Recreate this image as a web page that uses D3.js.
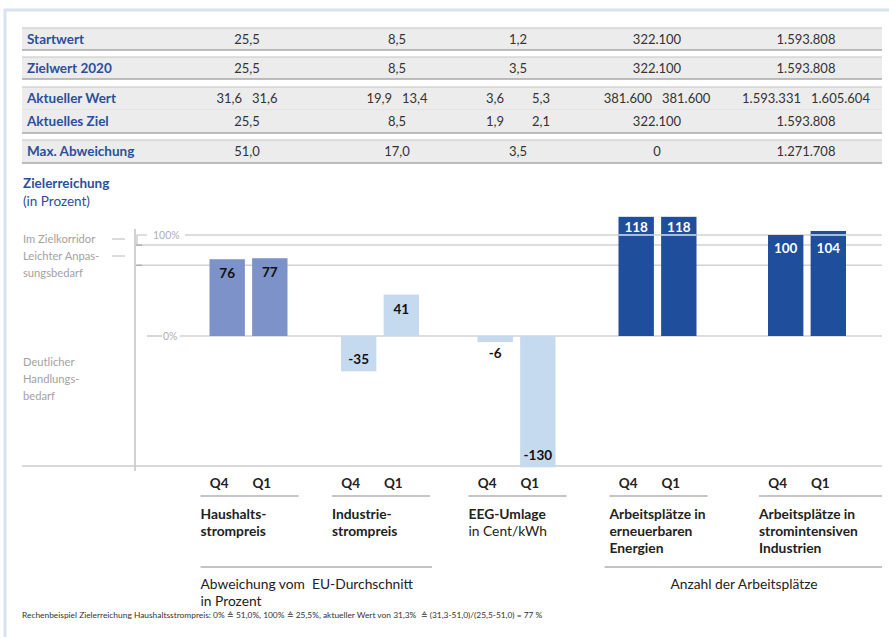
<!doctype html>
<html>
<head>
<meta charset="utf-8">
<script type='text/javascript' src='https://d3js.org/d3.v7.min.js'></script>
<style>
body { margin: 0; background: #fff; }
text { font-family: Lato, 'Open Sans', sans-serif; }
</style>
</head>
<body>
<script>
var width = 889, height = 637;

// table data
var rowLabels = ['Startwert', 'Zielwert 2020', 'Aktueller Wert', 'Aktuelles Ziel', 'Max. Abweichung'];
var startwert = ['25,5', '8,5', '1,2', '322.100', '1.593.808'];
var zielwert = ['25,5', '8,5', '3,5', '322.100', '1.593.808'];
var aktuellQ4 = ['31,6', '19,9', '3,6', '381.600', '1.593.331'];
var aktuellQ1 = ['31,6', '13,4', '5,3', '381.600', '1.605.604'];
var zielQ4 = ['25,5', '8,5', '1,9', '322.100', '1.593.808'];
var zielQ1 = ['25,5', '8,5', '2,1', '322.100', '1.593.808'];
var maxAbw = ['51,0', '17,0', '3,5', '0', '1.271.708'];

// chart data
var categories = ['haushalt', 'industrie', 'eeg', 'ee', 'strom'];
var quarters = ['Q4', 'Q1'];
var q4 = [76, -35, -6, 118, 100];
var q1 = [77, 41, -130, 118, 104];
var catNames = [
  ['Haushalts-', 'strompreis'],
  ['Industrie-', 'strompreis'],
  ['EEG-Umlage', 'in Cent/kWh'],
  ['Arbeitsplätze in', 'erneuerbaren', 'Energien'],
  ['Arbeitsplätze in', 'stromintensiven', 'Industrien']
];
var gridTicks = [100, 90, 70, 0];

var catColor = d3.scaleOrdinal().domain(categories).range(['#7c92c8', '#c6daef', '#c6daef', '#1f4e9d', '#1f4e9d']);
var darkCat = {ee: true, strom: true};

var svg = d3.select('body').append('svg').attr('width', width).attr('height', height);

// frame
svg.append('path').attr('d', 'M5,637V10H889').attr('fill', 'none')
  .attr('stroke', '#d9e3ed').attr('stroke-width', 3);

// ---------- table ----------
var tableX = d3.scaleOrdinal().domain(categories).range([247, 397, 518, 657, 806]);
var rows = [
  {label: rowLabels[0], a: startwert, b: startwert, top: 28, bot: 50},
  {label: rowLabels[1], a: zielwert, b: zielwert, top: 57, bot: 79},
  {label: rowLabels[2], a: aktuellQ4, b: aktuellQ1, top: 87, bot: 110, pair: true},
  {label: rowLabels[3], a: zielQ4, b: zielQ1, top: 110, bot: 133},
  {label: rowLabels[4], a: maxAbw, b: maxAbw, top: 140, bot: 163}
];
var tg = svg.append('g');
rows.forEach(function(r, i) {
  tg.append('rect').attr('x', 22).attr('y', r.top).attr('width', 860).attr('height', r.bot - r.top)
    .attr('fill', '#ececec');
  if (i != 3) tg.append('line').attr('x1', 22).attr('x2', 882).attr('y1', r.top).attr('y2', r.top)
    .attr('stroke', '#c4c4c4').attr('stroke-width', 1.2);
  if (i != 2) tg.append('line').attr('x1', 22).attr('x2', 882).attr('y1', r.bot).attr('y2', r.bot)
    .attr('stroke', '#a9a9a9').attr('stroke-width', 1.5);
  else tg.append('line').attr('x1', 22).attr('x2', 882).attr('y1', r.bot).attr('y2', r.bot)
    .attr('stroke', '#dadada').attr('stroke-width', 1);
  var cy = (r.top + r.bot) / 2 + 4.5;
  tg.append('text').attr('x', 27).attr('y', cy).text(r.label)
    .attr('font-size', 13.5).attr('font-weight', 'bold').attr('fill', '#2b4f9b');
  categories.forEach(function(c, j) {
    if (r.pair || r.a[j] != r.b[j]) {
      var gap = (c == 'eeg') ? 14 : 5;
      tg.append('text').attr('x', tableX(c) - gap).attr('y', cy).attr('text-anchor', 'end')
        .attr('font-size', 13).attr('fill', '#333').text(r.a[j]);
      tg.append('text').attr('x', tableX(c) + gap).attr('y', cy).attr('text-anchor', 'start')
        .attr('font-size', 13).attr('fill', '#333').text(r.b[j]);
    } else {
      tg.append('text').attr('x', tableX(c)).attr('y', cy).attr('text-anchor', 'middle')
        .attr('font-size', 13).attr('fill', '#333').text(r.a[j]);
    }
  });
});

// ---------- chart ----------
svg.append('text').attr('x', 23).attr('y', 188).text('Zielerreichung')
  .attr('font-size', 13.5).attr('font-weight', 'bold').attr('fill', '#2b4f9b');
svg.append('text').attr('x', 23).attr('y', 206).text('(in Prozent)')
  .attr('font-size', 13.5).attr('fill', '#2b4f9b');

var y = d3.scaleLinear().domain([0, 100]).range([336, 235]);
var x = d3.scaleOrdinal().domain(categories).range([248.5, 380, 516.5, 657.5, 807]);
var xq = d3.scaleBand().domain(quarters).range([-39, 39]).paddingInner(0.17);
var right = 882, axisX = 135;

// gridlines
var gridStart = {100: 185, 90: axisX + 2, 70: axisX + 2, 0: 180};
gridTicks.forEach(function(t) {
  svg.append('line').attr('x1', gridStart[t]).attr('x2', right).attr('y1', y(t)).attr('y2', y(t))
    .attr('stroke', '#d2d2d2').attr('stroke-width', 1.5);
});
svg.append('text').attr('x', 153).attr('y', y(100) + 4).text('100%')
  .attr('font-size', 10.5).attr('fill', '#b0b0b0');
svg.append('line').attr('x1', 147).attr('x2', 162).attr('y1', y(0)).attr('y2', y(0))
  .attr('stroke', '#c8c8c8').attr('stroke-width', 1.5);
svg.append('text').attr('x', 163).attr('y', y(0) + 4).text('0%')
  .attr('font-size', 10.5).attr('fill', '#b0b0b0');
// bracket & ticks on axis
svg.append('path').attr('d', 'M' + (axisX + 12) + ',' + y(100) + 'H' + (axisX + 2) + 'V' + y(90))
  .attr('fill', 'none').attr('stroke', '#c0c0c0').attr('stroke-width', 1.2);
[90, 70].forEach(function(t) {
  svg.append('line').attr('x1', axisX + 1).attr('x2', axisX + 7).attr('y1', y(t)).attr('y2', y(t))
    .attr('stroke', '#b0b0b0').attr('stroke-width', 1.5);
});
// axis line and baseline
svg.append('line').attr('x1', axisX).attr('x2', axisX).attr('y1', 229).attr('y2', 471)
  .attr('stroke', '#b4b4b4').attr('stroke-width', 1.2);
svg.append('line').attr('x1', 22).attr('x2', right).attr('y1', 466).attr('y2', 466)
  .attr('stroke', '#cccccc').attr('stroke-width', 1.5);

// left annotations
var annGrey = '#a2a2a2';
[['Im Zielkorridor', 243], ['Leichter Anpas-', 260], ['sungsbedarf', 277],
 ['Deutlicher', 366], ['Handlungs-', 383], ['bedarf', 400]].forEach(function(a) {
  svg.append('text').attr('x', 23).attr('y', a[1]).text(a[0]).attr('font-size', 11.2).attr('fill', annGrey);
});
[239, 256].forEach(function(yy) {
  svg.append('line').attr('x1', 112).attr('x2', 125).attr('y1', yy).attr('y2', yy)
    .attr('stroke', '#b8b8b8').attr('stroke-width', 1);
});

// bars
var bars = [];
categories.forEach(function(c, i) {
  bars.push({cat: c, q: 'Q4', v: q4[i]});
  bars.push({cat: c, q: 'Q1', v: q1[i]});
});
svg.selectAll('rect.bar').data(bars).join('rect').attr('class', 'bar')
  .attr('x', function(d) { return x(d.cat) + xq(d.q); })
  .attr('width', xq.bandwidth())
  .attr('y', function(d) { return y(Math.max(0, d.v)); })
  .attr('height', function(d) { return Math.abs(y(d.v) - y(0)); })
  .attr('fill', function(d) { return catColor(d.cat); });
// light line at 100% across bars above target
svg.selectAll('line.over').data(bars.filter(function(d) { return d.v > 100; })).join('line')
  .attr('class', 'over')
  .attr('x1', function(d) { return x(d.cat) + xq(d.q); })
  .attr('x2', function(d) { return x(d.cat) + xq(d.q) + xq.bandwidth(); })
  .attr('y1', y(100)).attr('y2', y(100))
  .attr('stroke', '#d8e2f0').attr('stroke-width', 1.5);
svg.selectAll('text.val').data(bars).join('text').attr('class', 'val')
  .attr('x', function(d) { return x(d.cat) + xq(d.q) + xq.bandwidth() / 2; })
  .attr('y', function(d) {
    var h = Math.abs(y(d.v) - y(0));
    if (d.v > 110) return y(d.v) + 15;
    if (d.v >= 100) return y(100) + 18;
    if (d.v >= 0) return y(d.v) + 19;
    if (h < 20) return y(d.v) + 16;
    return y(d.v) - 7;
  })
  .attr('text-anchor', 'middle').attr('font-size', 13.5).attr('font-weight', 'bold')
  .attr('fill', function(d) { return darkCat[d.cat] ? '#fff' : '#111'; })
  .text(function(d) { return d.v; });

// x labels
var lab = '#222';
categories.forEach(function(c, i) {
  var x0 = x(c) - 48, x1 = (i == categories.length - 1) ? right : x(c) + 50;
  quarters.forEach(function(q) {
    svg.append('text').attr('x', x(c) + xq(q) + xq.bandwidth() / 2 - 8).attr('y', 488)
      .attr('text-anchor', 'middle').attr('font-size', 13.5).attr('font-weight', 'bold')
      .attr('fill', lab).text(q);
  });
  svg.append('line').attr('x1', x0).attr('x2', x1).attr('y1', 496).attr('y2', 496)
    .attr('stroke', '#8a8a8a').attr('stroke-width', 1.2);
  catNames[i].forEach(function(t, k) {
    svg.append('text').attr('x', x0).attr('y', 519 + k * 17).text(t)
      .attr('font-size', 13.8).attr('fill', lab)
      .attr('font-weight', (c == 'eeg' && k == 1) ? 'normal' : 'bold');
  });
});
// group lines
svg.append('line').attr('x1', x('haushalt') - 48).attr('x2', x('industrie') + 52).attr('y1', 567).attr('y2', 567)
  .attr('stroke', '#8a8a8a').attr('stroke-width', 1.2);
svg.append('line').attr('x1', x('ee') - 53).attr('x2', right).attr('y1', 567).attr('y2', 567)
  .attr('stroke', '#8a8a8a').attr('stroke-width', 1.2);
svg.append('text').attr('x', x('haushalt') - 48).attr('y', 589).text('Abweichung vom  EU-Durchschnitt')
  .attr('font-size', 13.8).attr('fill', lab).style('white-space', 'pre');
svg.append('text').attr('x', x('haushalt') - 48).attr('y', 606).text('in Prozent')
  .attr('font-size', 13.8).attr('fill', lab);
svg.append('text').attr('x', 744).attr('y', 589).attr('text-anchor', 'middle').text('Anzahl der Arbeitsplätze')
  .attr('font-size', 13.8).attr('fill', lab);

// footnote
svg.append('text').attr('x', 22).attr('y', 618)
  .text('Rechenbeispiel Zielerreichung Haushaltsstrompreis: 0% \u2259 51,0%, 100% \u2259 25,5%, aktueller Wert von 31,3%  \u2259 (31,3-51,0)/(25,5-51,0) = 77 %')
  .attr('font-size', 8.4).attr('fill', '#333').style('white-space', 'pre');

console.log('ready..');
</script>
</body>
</html>
